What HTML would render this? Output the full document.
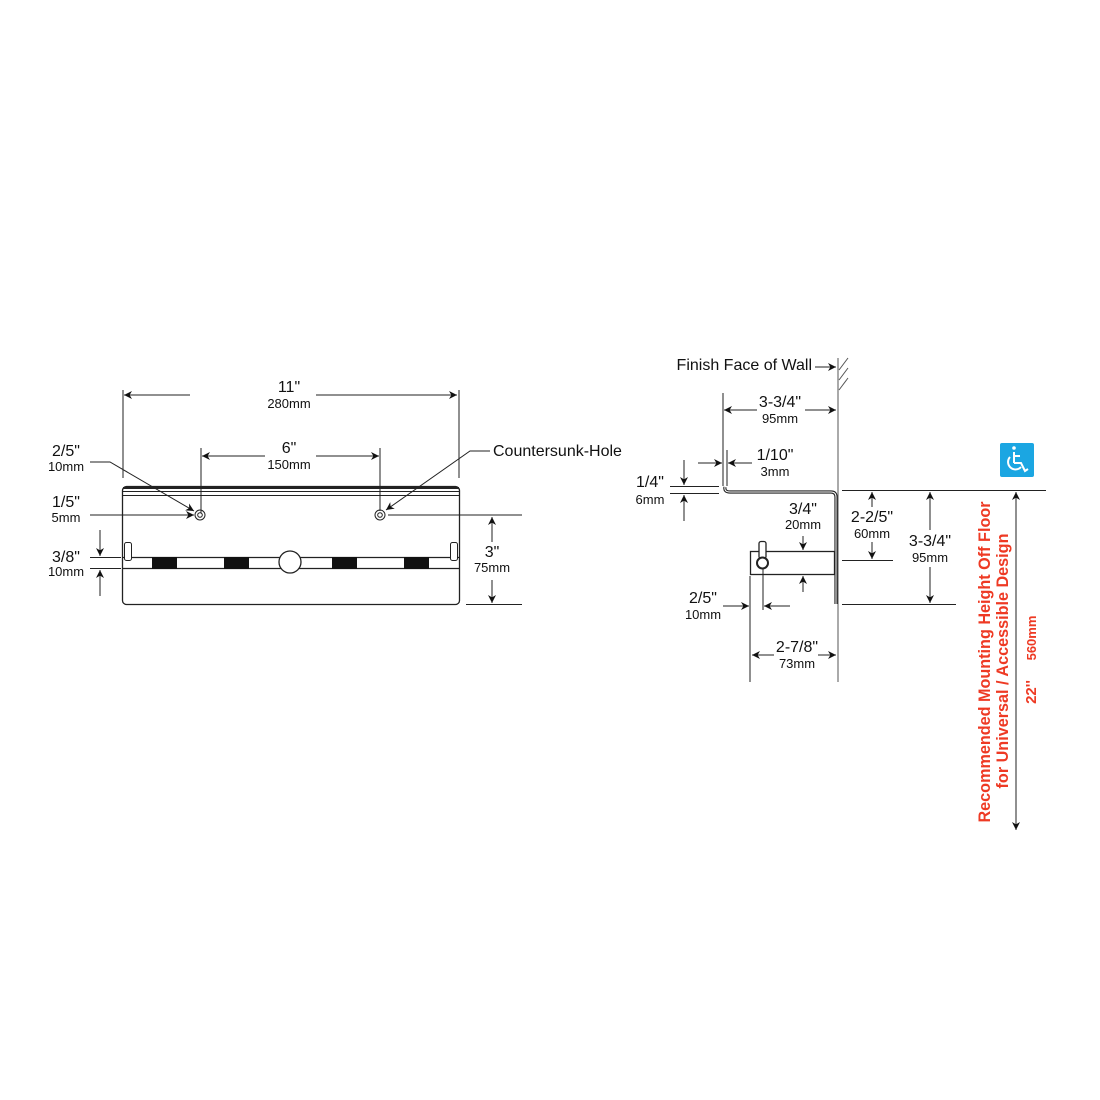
<!DOCTYPE html>
<html><head><meta charset="utf-8"><style>
html,body{margin:0;padding:0;background:#fff;}
svg{display:block;}
text{font-family:"Liberation Sans",sans-serif;fill:#111;}
.a{font-size:16px;text-anchor:middle;}
.m{font-size:13px;text-anchor:middle;}
.r{fill:#ee3a24;font-weight:bold;font-size:16.2px;text-anchor:middle;}
</style></head><body>
<svg width="1100" height="1100" viewBox="0 0 1100 1100" xmlns="http://www.w3.org/2000/svg">
<defs>
<marker id="ar" viewBox="0 0 10 10" refX="10" refY="5" markerWidth="10" markerHeight="8" markerUnits="userSpaceOnUse" orient="auto">
<path d="M0,0 L10,5 L0,10 L3,5 Z" fill="#111"/>
</marker>
</defs>
<g stroke="#222" stroke-width="1" fill="none">
<rect x="122.5" y="486.5" width="337" height="118" rx="4" stroke-width="1.3"/>
<line x1="123" y1="488" x2="459" y2="488" stroke-width="2"/>
<line x1="123" y1="491.5" x2="459" y2="491.5"/>
<line x1="123" y1="495.5" x2="459" y2="495.5"/>
<circle cx="200" cy="515" r="5"/><circle cx="200" cy="515" r="2.3"/>
<circle cx="380" cy="515" r="5"/><circle cx="380" cy="515" r="2.3"/>
<line x1="123" y1="557.5" x2="459" y2="557.5" stroke-width="1.3"/>
<line x1="123" y1="568.5" x2="459" y2="568.5" stroke-width="1.3"/>
<rect x="124.5" y="542.5" width="7" height="18" rx="2" fill="#fff"/>
<rect x="450.5" y="542.5" width="7" height="18" rx="2" fill="#fff"/>
<circle cx="290" cy="562" r="11" fill="#fff" stroke-width="1.3"/>
<line x1="123" y1="390" x2="123" y2="478"/>
<line x1="459" y1="390" x2="459" y2="478"/>
<line x1="190" y1="395" x2="124" y2="395" marker-end="url(#ar)"/>
<line x1="316" y1="395" x2="457" y2="395" marker-end="url(#ar)"/>
<line x1="201" y1="448" x2="201" y2="513"/>
<line x1="380" y1="448" x2="380" y2="511"/>
<line x1="265" y1="456" x2="202" y2="456" marker-end="url(#ar)"/>
<line x1="316" y1="456" x2="379" y2="456" marker-end="url(#ar)"/>
<polyline points="90,462 110,462 194,511" marker-end="url(#ar)"/>
<line x1="90" y1="515" x2="194" y2="515" marker-end="url(#ar)"/>
<polyline points="490,451 470,451 386,510" marker-end="url(#ar)"/>
<line x1="90" y1="557.5" x2="121" y2="557.5"/>
<line x1="90" y1="568.5" x2="121" y2="568.5"/>
<line x1="100" y1="530" x2="100" y2="556" marker-end="url(#ar)"/>
<line x1="100" y1="596" x2="100" y2="570" marker-end="url(#ar)"/>
<line x1="388" y1="515" x2="522" y2="515"/>
<line x1="466" y1="604.5" x2="522" y2="604.5"/>
<line x1="492" y1="542" x2="492" y2="517" marker-end="url(#ar)"/>
<line x1="492" y1="580" x2="492" y2="603" marker-end="url(#ar)"/>

<line x1="838" y1="358" x2="838" y2="682" stroke="#555"/>
<line x1="839" y1="370" x2="848" y2="358" stroke="#555"/>
<line x1="839" y1="380" x2="848" y2="368" stroke="#555"/>
<line x1="839" y1="390" x2="848" y2="378" stroke="#555"/>
<line x1="815" y1="367" x2="836" y2="367" marker-end="url(#ar)"/>
<line x1="723" y1="393" x2="723" y2="486"/>
<line x1="757" y1="410" x2="724" y2="410" marker-end="url(#ar)"/>
<line x1="805" y1="410" x2="836" y2="410" marker-end="url(#ar)"/>
<line x1="727" y1="450" x2="727" y2="486"/>
<line x1="698" y1="463" x2="722" y2="463" marker-end="url(#ar)"/>
<line x1="752" y1="463" x2="728" y2="463" marker-end="url(#ar)"/>
<line x1="670" y1="486.5" x2="719" y2="486.5"/>
<line x1="670" y1="493.5" x2="719" y2="493.5"/>
<line x1="684" y1="460" x2="684" y2="485" marker-end="url(#ar)"/>
<line x1="684" y1="521" x2="684" y2="495" marker-end="url(#ar)"/>
<path d="M725,487 Q724,492 730,492 L831,492 Q836,492 836,497 L836,604" stroke="#222" stroke-width="3.2"/>
<path d="M725,487 Q724,492 730,492 L831,492 Q836,492 836,497 L836,604" stroke="#fff" stroke-width="1"/>
<rect x="750.5" y="551.5" width="84" height="23" fill="#fff" stroke-width="1.3"/>
<rect x="759" y="541.5" width="7" height="17" rx="2" fill="#fff" stroke-width="1.3"/>
<circle cx="762.5" cy="563" r="5.5" fill="#fff" stroke-width="2"/>
<line x1="803" y1="536" x2="803" y2="550" marker-end="url(#ar)"/>
<line x1="803" y1="592" x2="803" y2="576" marker-end="url(#ar)"/>
<line x1="750" y1="576" x2="750" y2="682"/>
<line x1="763" y1="569" x2="763" y2="610"/>
<line x1="723" y1="606" x2="749" y2="606" marker-end="url(#ar)"/>
<line x1="790" y1="606" x2="764" y2="606" marker-end="url(#ar)"/>
<line x1="774" y1="655" x2="752" y2="655" marker-end="url(#ar)"/>
<line x1="818" y1="655" x2="836" y2="655" marker-end="url(#ar)"/>
<line x1="842" y1="490.5" x2="1046" y2="490.5"/>
<line x1="842" y1="560.5" x2="893" y2="560.5"/>
<line x1="842" y1="604.5" x2="956" y2="604.5"/>
<line x1="872" y1="507" x2="872" y2="492" marker-end="url(#ar)"/>
<line x1="872" y1="542" x2="872" y2="559" marker-end="url(#ar)"/>
<line x1="930" y1="530" x2="930" y2="492" marker-end="url(#ar)"/>
<line x1="930" y1="567" x2="930" y2="603" marker-end="url(#ar)"/>
<line x1="1016" y1="560" x2="1016" y2="492" marker-end="url(#ar)"/>
<line x1="1016" y1="760" x2="1016" y2="830" marker-end="url(#ar)"/>
<line x1="1016" y1="560" x2="1016" y2="760"/>
</g>
<g fill="#111">
<rect x="152" y="557" width="25" height="12"/>
<rect x="224" y="557" width="25" height="12"/>
<rect x="332" y="557" width="25" height="12"/>
<rect x="404" y="557" width="25" height="12"/>
</g>
<rect x="1000" y="443" width="34" height="34" rx="2" fill="#1ba6e2"/>
<g stroke="#fff" fill="none" stroke-width="2">
<circle cx="1014" cy="448" r="1.8" fill="#fff" stroke="none"/>
<line x1="1014" y1="452" x2="1014" y2="463"/>
<line x1="1014" y1="456" x2="1020" y2="456"/>
<polyline points="1014,463 1021,463 1025,471 1028,469"/>
<path d="M1010,457 A7,7 0 1 0 1021,467"/>
</g>
<text class="a" x="289" y="392">11"</text><text class="m" x="289" y="408">280mm</text>
<text class="a" x="289" y="453">6"</text><text class="m" x="289" y="469">150mm</text>
<text class="a" x="66" y="456">2/5"</text><text class="m" x="66" y="471">10mm</text>
<text class="a" x="66" y="507">1/5"</text><text class="m" x="66" y="522">5mm</text>
<text class="a" x="66" y="562">3/8"</text><text class="m" x="66" y="576">10mm</text>
<text class="a" x="492" y="557">3"</text><text class="m" x="492" y="572">75mm</text>
<text x="493" y="456" style="font-size:16px">Countersunk-Hole</text>
<text x="812" y="370" style="font-size:16px;text-anchor:end">Finish Face of Wall</text>
<text class="a" x="780" y="407">3-3/4"</text><text class="m" x="780" y="423">95mm</text>
<text class="a" x="775" y="460">1/10"</text><text class="m" x="775" y="476">3mm</text>
<text class="a" x="650" y="487">1/4"</text><text class="m" x="650" y="504">6mm</text>
<text class="a" x="803" y="514">3/4"</text><text class="m" x="803" y="529">20mm</text>
<text class="a" x="872" y="522">2-2/5"</text><text class="m" x="872" y="538">60mm</text>
<text class="a" x="930" y="546">3-3/4"</text><text class="m" x="930" y="562">95mm</text>
<text class="a" x="703" y="603">2/5"</text><text class="m" x="703" y="619">10mm</text>
<text class="a" x="797" y="652">2-7/8"</text><text class="m" x="797" y="668">73mm</text>
<text class="r" transform="translate(990,662) rotate(-90)">Recommended Mounting Height Off Floor</text>
<text class="r" transform="translate(1008,661) rotate(-90)">for Universal / Accessible Design</text>
<text class="r" transform="translate(1036,692) rotate(-90)" style="font-size:15px">22''</text>
<text class="r" transform="translate(1036,638) rotate(-90)" style="font-size:13px">560mm</text>
</svg>
</body></html>
